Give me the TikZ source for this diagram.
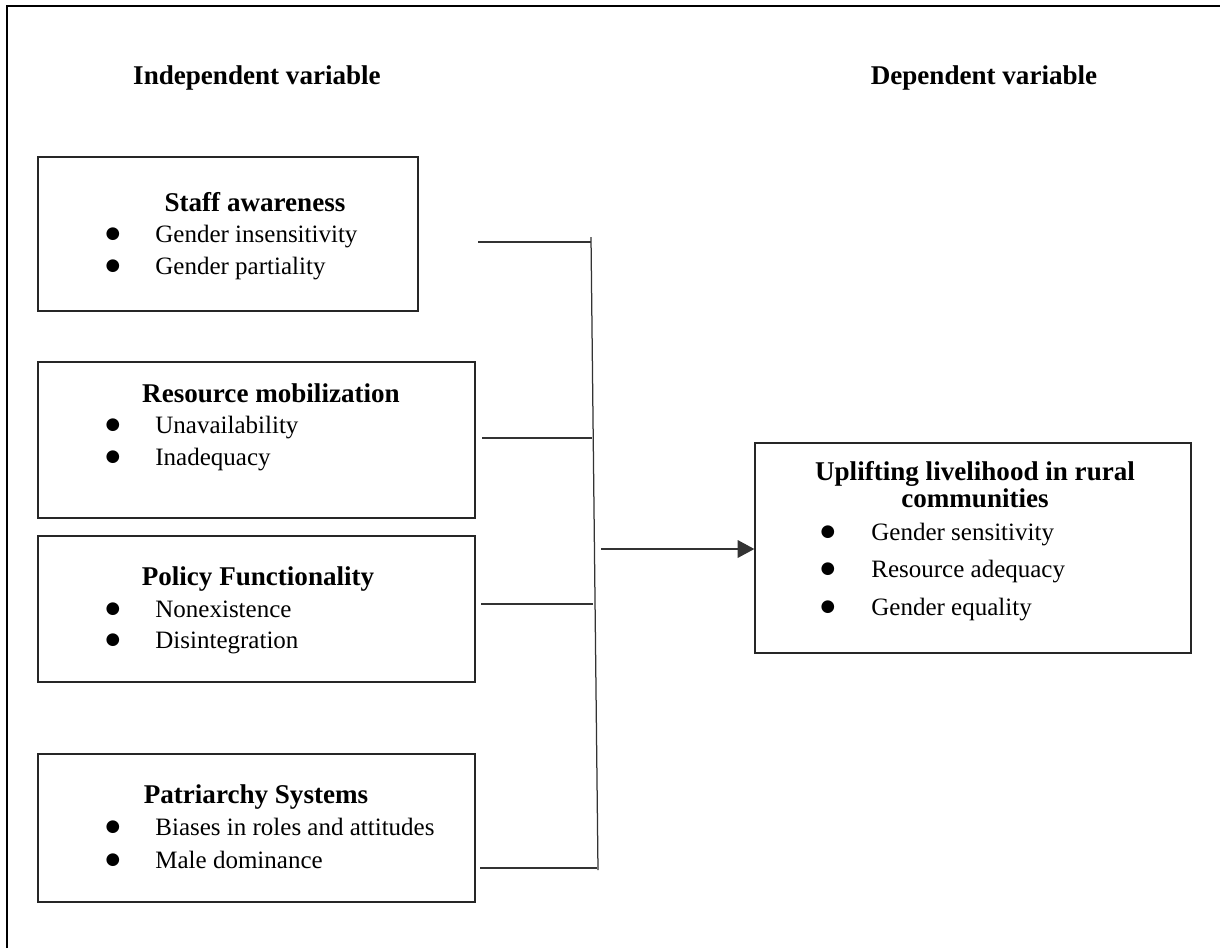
\documentclass[tikz,border=0pt]{standalone}
\usepackage{fontspec}
\setmainfont{Liberation Serif}
\newfontfamily\bulfont{DejaVu Sans}
\usetikzlibrary{fit,arrows.meta}
\begin{document}
\begin{tikzpicture}[x=0.48pt,y=-0.48pt,
  box/.style={draw=black!85,line width=0.65pt,inner sep=0pt},
  ttl/.style={font=\fontsize{13}{15}\selectfont\bfseries,anchor=base,inner sep=0pt},
  itm/.style={font=\fontsize{12}{14}\selectfont,anchor=base west,inner sep=0pt},
  bul/.style={font=\bulfont\fontsize{8}{9}\selectfont,anchor=base,inner sep=0pt,yshift=1.6pt},
  conn/.style={draw=black!80,line width=0.6pt},
  frame/.style={line width=1.2pt}]
\useasboundingbox (0,0) rectangle (1220,948);
% outer frame (left and top edges)
\draw[frame] (7,948) -- (7,6) -- (1220,6);
% headers
\node[ttl] (hind) at (257,84) {Independent variable};
\node[ttl] (hdep) at (984,84) {Dependent variable};
% box corners
\coordinate (c1a) at (38,157);  \coordinate (c1b) at (418,311);
\coordinate (c2a) at (38,362);  \coordinate (c2b) at (475,518);
\coordinate (c3a) at (38,536);  \coordinate (c3b) at (475,682);
\coordinate (c4a) at (38,754);  \coordinate (c4b) at (475,902);
\coordinate (c5a) at (755,443); \coordinate (c5b) at (1191,653);
% boxes
\node[box,fit=(c1a) (c1b)] (staff) {};
\node[box,fit=(c2a) (c2b)] (res) {};
\node[box,fit=(c3a) (c3b)] (pol) {};
\node[box,fit=(c4a) (c4b)] (pat) {};
\node[box,fit=(c5a) (c5b)] (dep) {};
% staff
\node[ttl] (t1) at (255,211) {Staff awareness};
\node[bul] (b11) at (113,242) {●};
\node[itm] (i11) at (155,242) {Gender insensitivity};
\node[bul] (b12) at (113,274) {●};
\node[itm] (i12) at (155,274) {Gender partiality};
% resource
\node[ttl] (t2) at (271,402) {Resource mobilization};
\node[bul] (b21) at (113,433) {●};
\node[itm] (i21) at (155,433) {Unavailability};
\node[bul] (b22) at (113,465) {●};
\node[itm] (i22) at (155,465) {Inadequacy};
% policy
\node[ttl] (t3) at (258,585) {Policy Functionality};
\node[bul] (b31) at (113,617) {●};
\node[itm] (i31) at (155,617) {Nonexistence};
\node[bul] (b32) at (113,648) {●};
\node[itm] (i32) at (155,648) {Disintegration};
% patriarchy
\node[ttl] (t4) at (256,803) {Patriarchy Systems};
\node[bul] (b41) at (113,835) {●};
\node[itm] (i41) at (155,835) {Biases in roles and attitudes};
\node[bul] (b42) at (113,868) {●};
\node[itm] (i42) at (155,868) {Male dominance};
% dependent
\node[ttl] (t5) at (975,480) {Uplifting livelihood in rural};
\node[ttl] (t5b) at (975,507) {communities};
\node[bul] (b51) at (828,540) {●};
\node[itm] (i51) at (871,540) {Gender sensitivity};
\node[bul] (b52) at (828,577) {●};
\node[itm] (i52) at (871,577) {Resource adequacy};
\node[bul] (b53) at (828,615) {●};
\node[itm] (i53) at (871,615) {Gender equality};
% connectors
\coordinate (vtop) at (591,237);
\coordinate (vbot) at (598,870);
\draw[conn] (vtop) -- (vbot);
\coordinate (s1) at (478,242); \coordinate (e1) at (591,242);
\coordinate (s2) at (482,438); \coordinate (e2) at (592,438);
\coordinate (s3) at (481,604); \coordinate (e3) at (593,604);
\coordinate (s4) at (480,868); \coordinate (e4) at (597,868);
\draw[conn] (s1) -- (e1);
\draw[conn] (s2) -- (e2);
\draw[conn] (s3) -- (e3);
\draw[conn] (s4) -- (e4);
\coordinate (a0) at (601,549);
\draw[conn,-{Triangle[length=8pt,width=8.5pt]}] (a0) -- (a0 -| dep.west);
\end{tikzpicture}
\end{document}
